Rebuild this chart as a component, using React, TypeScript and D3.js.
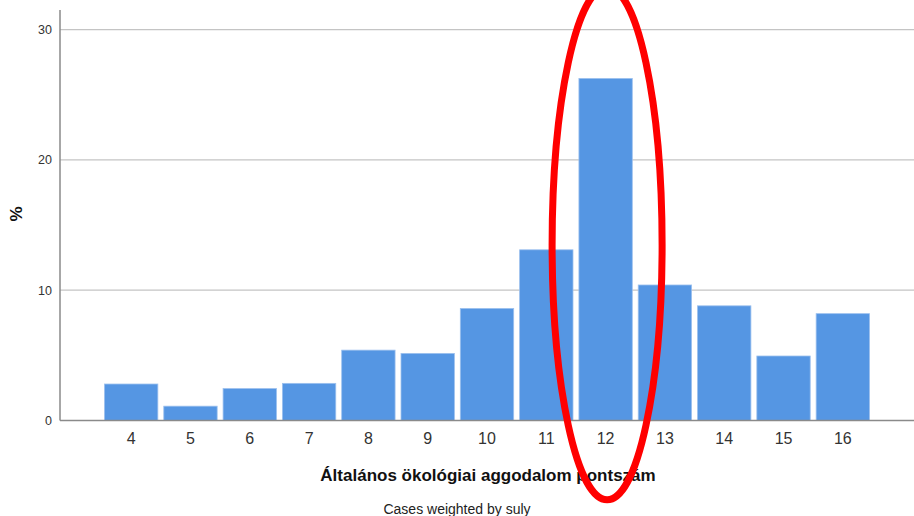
import React from "react";
import * as d3 from "d3";

// score categories and percentages
const scores = ["4", "5", "6", "7", "8", "9", "10", "11", "12", "13", "14", "15", "16"];
const percents = [2.8, 1.1, 2.45, 2.85, 5.4, 5.15, 8.6, 13.1, 26.25, 10.4, 8.8, 4.95, 8.2];
const yTicks = [0, 10, 20, 30];
const highlighted = "12";

const W = 914;
const H = 516;
const left = 60;
const right = 914;
const zeroY = 420.5;

const App = () => {
  const x = d3.scaleBand().domain(scores).range([left, right]).paddingInner(0.1).paddingOuter(0.75);
  const y = d3.scaleLinear().domain([0, 10]).range([zeroY, zeroY - 130.3]);
  const font = "'Liberation Sans', Arial, sans-serif";
  const hx = (x(highlighted) as number) + x.bandwidth() / 2 + 1.5;

  // hand drawn looking ring: top half a bit more stretched than bottom
  const cy = 245, rx = 55, ryTop = 258, ryBottom = 255;
  const ring = `M${hx - rx},${cy} A${rx},${ryTop} 0 0 1 ${hx + rx},${cy} A${rx},${ryBottom} 0 0 1 ${hx - rx},${cy} Z`;

  return (
    <svg width={W} height={H} style={{ position: "absolute", left: 0, top: 0, background: "#fff" }}>
      {/* gridlines */}
      {yTicks.filter((t) => t > 0).map((t) => (
        <line key={t} x1={left} x2={right} y1={y(t)} y2={y(t)} stroke="#c4c4c4" strokeWidth={1.2} />
      ))}
      {/* bars */}
      {scores.map((s, i) => (
        <rect
          key={s}
          x={x(s)}
          y={y(percents[i])}
          width={x.bandwidth()}
          height={zeroY - y(percents[i])}
          fill="#5596e3"
          stroke="#9cc0ee"
          strokeWidth={0.8}
        />
      ))}
      {/* axes */}
      <line x1={left} x2={left} y1={10} y2={zeroY} stroke="#8a8a8a" strokeWidth={1.5} />
      <line x1={left} x2={right} y1={zeroY} y2={zeroY} stroke="#8a8a8a" strokeWidth={1.5} />
      {yTicks.map((t) => (
        <text key={t} x={52} y={y(t)} dy="0.35em" textAnchor="end" fontFamily={font} fontSize={12.5} fill="#333">
          {t}
        </text>
      ))}
      {scores.map((s) => (
        <text
          key={s}
          x={(x(s) as number) + x.bandwidth() / 2}
          y={438}
          dy="0.35em"
          textAnchor="middle"
          fontFamily={font}
          fontSize={16}
          fill="#333"
        >
          {s}
        </text>
      ))}
      <text
        transform={`translate(16,214) rotate(-90)`}
        textAnchor="middle"
        dy="0.35em"
        fontFamily={font}
        fontSize={17}
        fontWeight="bold"
        fill="#111"
      >
        %
      </text>
      <text x={488} y={475} dy="0.35em" textAnchor="middle" fontFamily={font} fontSize={17} fontWeight="bold" fill="#111">
        Általános ökológiai aggodalom pontszám
      </text>
      <text x={457} y={509} dy="0.35em" textAnchor="middle" fontFamily={font} fontSize={14} fill="#222">
        Cases weighted by suly
      </text>
      {/* red highlight ring */}
      <path d={ring} fill="none" stroke="#ff0000" strokeWidth={7} />
    </svg>
  );
};

export default App;
